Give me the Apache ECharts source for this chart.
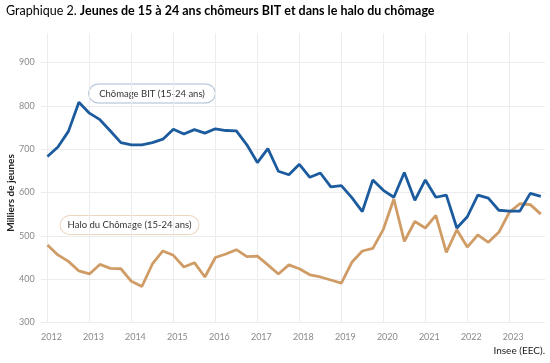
<!DOCTYPE html>
<html>
<head>
<meta charset="utf-8">
<script src="https://cdn.jsdelivr.net/npm/echarts@6/dist/echarts.min.js"></script>
<style>html,body{margin:0;padding:0;background:#fff;}#c{width:550px;height:363px;}</style>
</head>
<body>
<div id="c"></div>
<script>
const quarters = [
  '2012T1','2012T2','2012T3','2012T4','2013T1','2013T2','2013T3','2013T4',
  '2014T1','2014T2','2014T3','2014T4','2015T1','2015T2','2015T3','2015T4',
  '2016T1','2016T2','2016T3','2016T4','2017T1','2017T2','2017T3','2017T4',
  '2018T1','2018T2','2018T3','2018T4','2019T1','2019T2','2019T3','2019T4',
  '2020T1','2020T2','2020T3','2020T4','2021T1','2021T2','2021T3','2021T4',
  '2022T1','2022T2','2022T3','2022T4','2023T1','2023T2','2023T3','2023T4'
];
const chomageBIT = [683,705,741,808,783,768,742,715,710,710,715,723,746,735,745,737,
  747,743,742,710,669,701,649,641,665,635,645,613,616,588,556,629,
  605,589,646,582,629,589,594,518,544,594,587,559,557,557,598,591];
const haloChomage = [479,456,441,419,412,434,425,424,395,383,435,465,455,428,438,405,
  450,458,468,452,453,433,412,433,424,410,405,398,391,439,465,471,
  515,585,487,533,518,547,462,514,474,502,485,508,554,574,572,550];
const yTicks = [300,400,500,600,700,800,900];

function qx(q){ const y = parseInt(q.slice(0,4)); const t = parseInt(q.slice(5)); return y + (t-1)/4; }
const bitData = quarters.map((q,i)=>[qx(q), chomageBIT[i]]);
const haloData = quarters.map((q,i)=>[qx(q), haloChomage[i]]);

const chart = echarts.init(document.getElementById('c'), null, {renderer:'canvas'});
const FONT = 'Lato';
chart.setOption({
  animation:false,
  backgroundColor:'#ffffff',
  grid:{left:40.7, right:5, top:33, bottom:40.5, containLabel:false},
  xAxis:{
    type:'value', min:2011.84, max:2023.85, minInterval:1, maxInterval:1,
    axisLine:{show:false}, axisTick:{show:false},
    splitLine:{show:true, showMinLine:false, showMaxLine:false, lineStyle:{color:'#ececec', width:1}},
    axisLabel:{
      showMinLabel:false, showMaxLabel:false,
      formatter:function(v){ return Math.abs(v-Math.round(v))<1e-6 ? String(Math.round(v)) : ''; },
      color:'#8a8a8a', fontSize:9, fontFamily:FONT, margin:10, padding:[0,0,0,8]
    }
  },
  yAxis:{
    type:'value', min:300, max:968, interval:100,
    axisLine:{show:false}, axisTick:{show:false},
    splitLine:{show:true, showMaxLine:false, lineStyle:{color:'#ececec', width:1}},
    axisLabel:{
      showMaxLabel:false,
      formatter:function(v){ return yTicks.indexOf(v)>=0 ? String(v) : ''; },
      color:'#8a8a8a', fontSize:9, fontFamily:FONT, margin:6
    }
  },
  series:[
    {type:'line', name:'Chômage BIT (15-24 ans)', data:bitData, showSymbol:false,
     lineStyle:{color:'#1b5b9e', width:2.8}, itemStyle:{color:'#1b5b9e'}, z:3},
    {type:'line', name:'Halo du Chômage (15-24 ans)', data:haloData, showSymbol:false,
     lineStyle:{color:'#d09c66', width:2.8}, itemStyle:{color:'#d09c66'}, z:2}
  ],
  graphic:[
    {type:'text', left:6, top:4, style:{
      text:'{a|Graphique 2. }{b|Jeunes de 15 à 24 ans chômeurs BIT et dans le halo du chômage}',
      rich:{
        a:{fontFamily:FONT, fontSize:12.5, color:'#3e4f7a'},
        b:{fontFamily:FONT, fontSize:12.5, fontWeight:'bold', color:'#27305e'}
      }
    }},
    {type:'text', x:11, y:193, rotation:Math.PI/2, style:{
      text:'Milliers de jeunes', fontFamily:FONT, fontSize:10, fontWeight:'bold', fill:'#222',
      align:'center', verticalAlign:'middle'
    }},
    {type:'text', right:5, top:346, style:{
      text:'Insee (EEC).', fontFamily:FONT, fontSize:10, fill:'#222'
    }},
    {type:'text', x:152, y:93.5, style:{
      text:'Chômage BIT (15-24 ans)', fontFamily:FONT, fontSize:9.5, fill:'#333',
      align:'center', verticalAlign:'middle',
      backgroundColor:'#fff', borderColor:'#a8bcd6', borderWidth:1, borderRadius:9,
      padding:[4,10,4,10]
    }},
    {type:'text', x:129.5, y:225, style:{
      text:'Halo du Chômage (15-24 ans)', fontFamily:FONT, fontSize:9.5, fill:'#333',
      align:'center', verticalAlign:'middle',
      backgroundColor:'#fff', borderColor:'#ecd6c0', borderWidth:1, borderRadius:9,
      padding:[4,7,4,7]
    }}
  ]
});
</script>
</body>
</html>
